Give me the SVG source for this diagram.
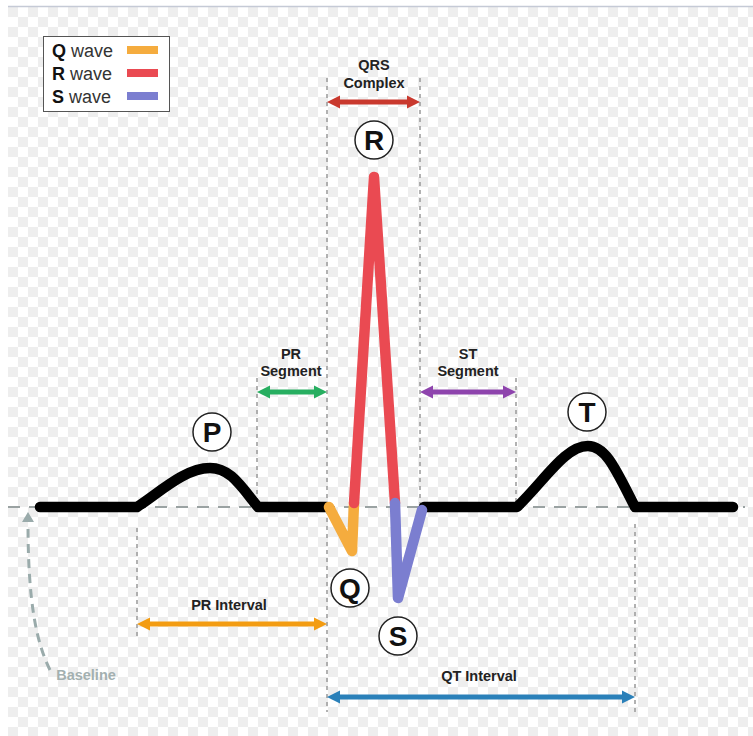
<svg xmlns="http://www.w3.org/2000/svg" width="753" height="736" viewBox="0 0 753 736">
<defs>
<pattern id="chk" x="8" y="7" width="20" height="20" patternUnits="userSpaceOnUse">
<rect width="20" height="20" fill="#ffffff"/>
<rect width="10" height="10" fill="#eeeeee"/>
<rect x="10" y="10" width="10" height="10" fill="#eeeeee"/>
</pattern>
<style>
.lbl{font-family:"Liberation Sans",Arial,sans-serif;font-weight:bold;font-size:14.5px;fill:#222;text-anchor:middle}
.leg{font-family:"Liberation Sans",Arial,sans-serif;font-size:18px;fill:#333}
.legb{font-weight:bold;fill:#111}
.circ{fill:#fff;stroke:#222;stroke-width:1.5}
.let{font-family:"Liberation Sans",Arial,sans-serif;font-weight:bold;font-size:28px;fill:#111;text-anchor:middle}
.vd{stroke:#999;stroke-width:1.5;stroke-dasharray:4 4;fill:none}
.wave{fill:none;stroke-width:10.5;stroke-linecap:round;stroke-linejoin:round}
</style>
</defs>
<rect width="753" height="736" fill="#fff"/>
<rect x="8" y="7" width="745" height="729" fill="url(#chk)"/>
<line x1="8" y1="6.5" x2="753" y2="6.5" stroke="#c5cad6" stroke-width="1.5"/>

<g id="guides">
<line class="vd" x1="327" y1="78" x2="327" y2="712"/>
<line class="vd" x1="420" y1="78" x2="420" y2="505"/>
<line class="vd" x1="257" y1="378" x2="257" y2="505"/>
<line class="vd" x1="516" y1="378" x2="516" y2="505"/>
<line class="vd" x1="137" y1="528" x2="137" y2="636"/>
<line class="vd" x1="635" y1="524" x2="635" y2="712"/>
</g>

<g id="baseline">
<line x1="8" y1="507" x2="745" y2="507" stroke="#9aa2a2" stroke-width="2" stroke-dasharray="12 9"/>
<path d="M50,670 C36,642 28,600 28,524" fill="none" stroke="#9aabab" stroke-width="3" stroke-dasharray="9 6"/>
<polygon points="28,512 22,522 34,522" fill="#9aabab"/>
<text x="86" y="680" class="lbl" style="fill:#a3b0b0">Baseline</text>
</g>

<g id="ecg">
<path class="wave" stroke="#000" d="M40,507 H137 C160,492 185,468 210,468 C230,468 240,485 258,507 H327"/>
<path class="wave" stroke="#000" d="M424,507 H517 C545,480 565,446 588,446 C606,446 616,470 635,507 H733"/>
<path class="wave" stroke="#f5ac3e" d="M329,507 L352,551 L354,503"/>
<path class="wave" stroke="#ea4a52" d="M354,503 L374,177 L395,503"/>
<path class="wave" stroke="#7b7ed0" d="M395,503 L398,598 L422,510"/>
</g>

<g id="legend">
<rect x="43.5" y="36.5" width="126" height="75" fill="#fff" stroke="#555" stroke-width="1"/>
<text x="52" y="57" class="leg"><tspan class="legb">Q</tspan> wave</text>
<text x="52" y="80" class="leg"><tspan class="legb">R</tspan> wave</text>
<text x="52" y="103" class="leg"><tspan class="legb">S</tspan> wave</text>
<rect x="127" y="46" width="31" height="8" fill="#f5ac3e"/>
<rect x="127" y="69" width="31" height="8" fill="#ea4a52"/>
<rect x="127" y="92" width="31" height="8" fill="#7b7ed0"/>
</g>

<g id="node-P"><circle class="circ" cx="212" cy="432" r="19"/><text class="let" x="212" y="442">P</text></g>
<g id="node-R"><circle class="circ" cx="374" cy="140" r="19"/><text class="let" x="374" y="150">R</text></g>
<g id="node-Q"><circle class="circ" cx="350" cy="588" r="19"/><text class="let" x="350" y="598">Q</text></g>
<g id="node-S"><circle class="circ" cx="398" cy="636" r="19"/><text class="let" x="398" y="646">S</text></g>
<g id="node-T"><circle class="circ" cx="587" cy="412" r="19"/><text class="let" x="587" y="422">T</text></g>

<g id="labels">
<text class="lbl" x="374" y="70">QRS</text>
<text class="lbl" x="374" y="88">Complex</text>
<text class="lbl" x="291" y="359">PR</text>
<text class="lbl" x="291" y="376">Segment</text>
<text class="lbl" x="468" y="359">ST</text>
<text class="lbl" x="468" y="376">Segment</text>
<text class="lbl" x="229" y="610">PR Interval</text>
<text class="lbl" x="479" y="681">QT Interval</text>
</g>

<g id="connectors">
<polygon fill="#c9392e" points="327,102 340,95.5 340,99.5 407,99.5 407,95.5 420,102 407,108.5 407,104.5 340,104.5 340,108.5"/>
<polygon fill="#27ae60" points="257,392 270,385.5 270,389.5 314,389.5 314,385.5 327,392 314,398.5 314,394.5 270,394.5 270,398.5"/>
<polygon fill="#8e44ad" points="420,392 433,385.5 433,389.5 503,389.5 503,385.5 516,392 503,398.5 503,394.5 433,394.5 433,398.5"/>
<polygon fill="#f39c12" points="137,624 150,617.5 150,621.5 314,621.5 314,617.5 327,624 314,630.5 314,626.5 150,626.5 150,630.5"/>
<polygon fill="#2a80b9" points="327,697 340,690.5 340,694.5 622,694.5 622,690.5 635,697 622,703.5 622,699.5 340,699.5 340,703.5"/>
</g>
</svg>
